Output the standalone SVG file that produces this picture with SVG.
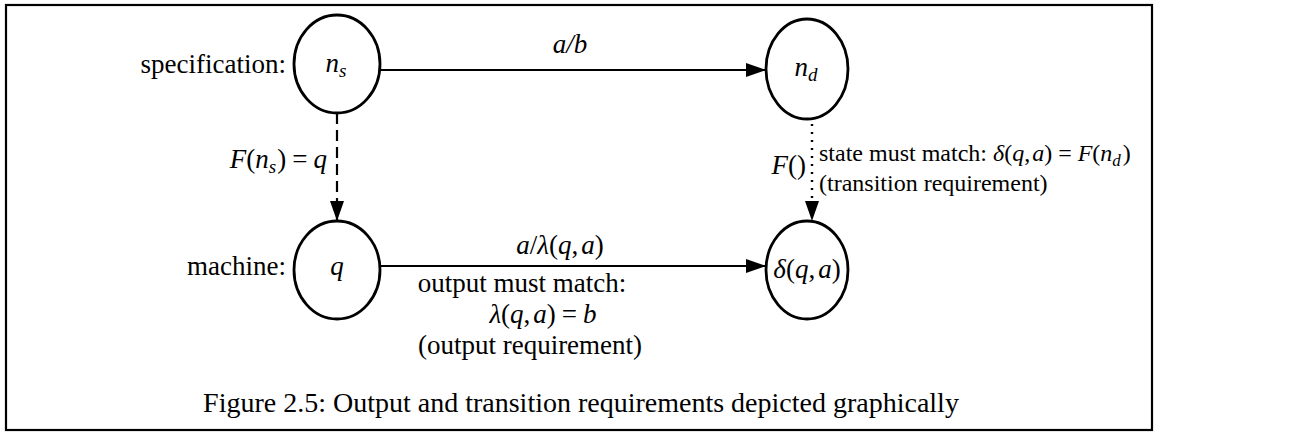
<svg xmlns="http://www.w3.org/2000/svg" width="1293" height="440" viewBox="0 0 1293 440">
  <style>
    text { font-family: "Liberation Serif", "Times New Roman", serif; font-size: 27px; fill: #000; }
    .m { font-style: italic; }
    .sub { font-size: 19px; font-style: italic; }
    .cap { font-size: 28px; }
    .note { font-size: 24px; }
    .note .sub { font-size: 17px; }
    .node { fill: none; stroke: #000; stroke-width: 2.8; }
    .edge { fill: none; stroke: #000; stroke-width: 2.2; }
    .dash { stroke-dasharray: 11 6; }
    .dot { stroke-dasharray: 2 6; stroke-width: 2.4; }
    .frame { fill: none; stroke: #000; stroke-width: 2.2; }
  </style>
  <defs>
    <marker id="head" viewBox="0 0 20 14" refX="20" refY="7" markerWidth="20" markerHeight="14" markerUnits="userSpaceOnUse" orient="auto">
      <path d="M0,0 L20,7 L0,14 Z" fill="#000"/>
    </marker>
  </defs>
  <rect class="frame" x="6" y="5" width="1146" height="425"/>

  <!-- row labels -->
  <text x="286" y="73" text-anchor="end">specification:</text>
  <text x="286" y="275" text-anchor="end">machine:</text>

  <g id="node-ns">
    <ellipse class="node" cx="337" cy="64" rx="43" ry="49"/>
    <text x="336" y="72" text-anchor="middle"><tspan class="m">n</tspan><tspan class="sub" dy="5">s</tspan></text>
  </g>
  <g id="node-nd">
    <ellipse class="node" cx="807" cy="69" rx="41" ry="50"/>
    <text x="806" y="76" text-anchor="middle"><tspan class="m">n</tspan><tspan class="sub" dy="5">d</tspan></text>
  </g>
  <g id="node-q">
    <ellipse class="node" cx="337" cy="270" rx="43" ry="49"/>
    <text x="337" y="275" text-anchor="middle" class="m">q</text>
  </g>
  <g id="node-delta">
    <ellipse class="node" cx="807" cy="270" rx="41" ry="49"/>
    <text x="807" y="278" text-anchor="middle"><tspan class="m">δ</tspan>(<tspan class="m">q</tspan>,<tspan class="m" dx="3">a</tspan>)</text>
  </g>

  <g id="connectors">
    <line class="edge" x1="380" y1="70" x2="766" y2="70" marker-end="url(#head)"/>
    <line class="edge dash" x1="337" y1="113" x2="337" y2="221" marker-end="url(#head)"/>
    <line class="edge dot" x1="812" y1="124" x2="812" y2="221" marker-end="url(#head)"/>
    <line class="edge" x1="380" y1="266" x2="766" y2="266" marker-end="url(#head)"/>
  </g>

  <g id="labels">
    <text x="570" y="53" text-anchor="middle" class="m">a/b</text>
    <text x="327" y="168" text-anchor="end"><tspan class="m">F</tspan>(<tspan class="m">n</tspan><tspan class="sub" dy="5">s</tspan><tspan dy="-5" dx="1">)</tspan><tspan dx="6">=</tspan><tspan class="m" dx="6">q</tspan></text>
    <text x="806" y="174" text-anchor="end"><tspan class="m">F</tspan>()</text>
    <text class="note" x="819" y="161">state must match: <tspan class="m">δ</tspan>(<tspan class="m">q</tspan>,<tspan class="m" dx="2">a</tspan>)<tspan dx="6">=</tspan><tspan class="m" dx="6">F</tspan>(<tspan class="m">n</tspan><tspan class="sub" dy="5">d</tspan><tspan dy="-5" dx="2">)</tspan></text>
    <text class="note" x="819" y="191">(transition requirement)</text>
    <text x="560" y="254" text-anchor="middle"><tspan class="m">a</tspan>/<tspan class="m">λ</tspan>(<tspan class="m">q</tspan>,<tspan class="m" dx="3">a</tspan>)</text>
    <text x="522" y="292" text-anchor="middle">output must match:</text>
    <text x="543" y="323" text-anchor="middle"><tspan class="m">λ</tspan>(<tspan class="m">q</tspan>,<tspan class="m" dx="3">a</tspan>)<tspan dx="6">=</tspan><tspan class="m" dx="6">b</tspan></text>
    <text x="530" y="354" text-anchor="middle">(output requirement)</text>
    <text class="cap" x="581" y="412" text-anchor="middle">Figure 2.5: Output and transition requirements depicted graphically</text>
  </g>
</svg>
